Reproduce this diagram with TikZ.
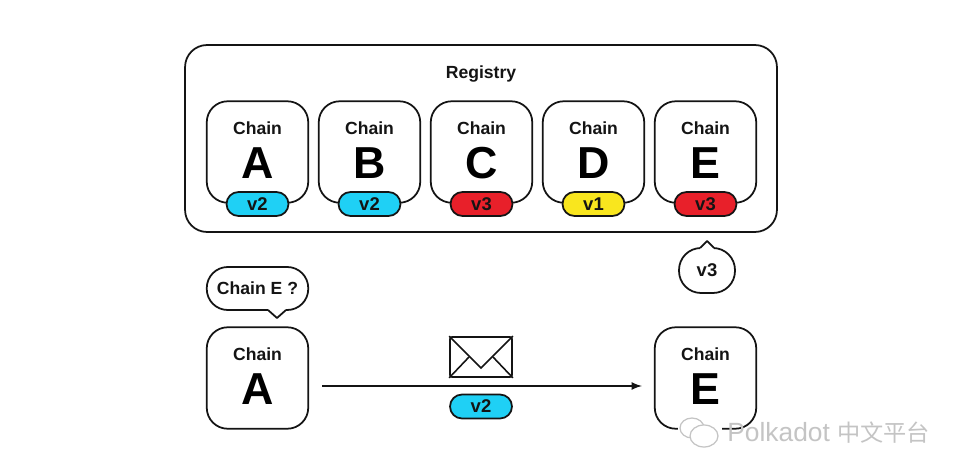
\documentclass[tikz,border=0pt]{standalone}
\usepackage{fontspec}
\setmainfont{Liberation Sans}
\newfontfamily\cjk{Noto Sans CJK SC}
\definecolor{tinta}{HTML}{141414}
\definecolor{cian}{HTML}{1FD0F5}
\definecolor{rojo}{HTML}{E8202A}
\definecolor{amarillo}{HTML}{F9E61E}
\definecolor{marca}{HTML}{C4C4C4}
\tikzstyle{caja}=[draw=tinta,line width=1pt,rounded corners=0.42cm,minimum width=2.03cm,minimum height=2.03cm,inner sep=0pt,fill=white]
\tikzstyle{pastilla}=[draw=tinta,line width=1pt,rounded corners=0.24cm,minimum width=1.24cm,minimum height=0.48cm,inner sep=0pt,font=\bfseries\fontsize{10.5}{12}\selectfont,text=tinta]
\tikzstyle{texto}=[inner sep=0pt,font=\bfseries\fontsize{10}{12}\selectfont,text=tinta]
\tikzstyle{letra}=[inner sep=0pt,font=\bfseries\fontsize{25.5}{30}\selectfont,text=black]
\tikzstyle{globo}=[draw=tinta,line width=1pt,fill=white,inner sep=0pt]
\tikzstyle{cola}=[line width=1pt,line join=round]

\begin{document}
\begin{tikzpicture}[x=0.02cm,y=-0.02cm]
    \useasboundingbox [fill=white] (0,0) rectangle (960,476);
    % registry
    \node [caja,minimum width=11.84cm,minimum height=3.74cm,rounded corners=0.44cm] (registry) at (481,138.5) {};
    \node [texto] (titulo) at (481,73.5) {Registry};
    \foreach \x/\nombre/\tono/\ver in {257.5/A/cian/v2,369.5/B/cian/v2,481.5/C/rojo/v3,593.5/D/amarillo/v1,705.5/E/rojo/v3} {
        \node [caja] (caja\nombre) at (\x,152) {};
        \node [texto] (chain\nombre) at (\x,128) {Chain};
        \node [letra] (letra\nombre) at (\x,163) {\nombre};
        \node [pastilla,fill=\tono] (ver\nombre) at (\x,204) {\ver};
    }
    % lower row
    \node [caja] (cajaizq) at (257.5,378) {};
    \node [texto] (chainizq) at (257.5,354) {Chain};
    \node [letra] (letraizq) at (257.5,389) {A};
    \node [caja] (cajader) at (705.5,378) {};
    \node [texto] (chainder) at (705.5,354) {Chain};
    \node [letra] (letrader) at (705.5,389) {E};
    \draw [tinta,line width=1pt,-latex,shorten <=0.26cm,shorten >=0.24cm] ([yshift=-0.16cm]cajaizq.east) -- ([yshift=-0.16cm]cajader.west);
    % bubbles
    \node [globo,rounded corners=0.42cm,minimum width=2.03cm,minimum height=0.86cm,font=\bfseries\fontsize{10}{12}\selectfont,text=tinta] (pregunta) at (257.5,288.5) {Chain E ?};
    \fill [white] (268,308) rectangle (286,311.5);
    \draw [tinta,cola] (268,310) -- (277,318) -- (286,310);
    \node [globo,rounded corners=0.44cm,minimum width=1.12cm,minimum height=0.9cm,font=\bfseries\fontsize{10.5}{12}\selectfont,text=tinta] (respuesta) at (707,270.5) {v3};
    \fill [white] (700,246.5) rectangle (714,250);
    \draw [tinta,cola] (700,248) -- (707,241) -- (714,248);
    % envelope
    \node [draw=tinta,line width=1pt,rounded corners=0.04cm,minimum width=1.24cm,minimum height=0.8cm,inner sep=0pt] (sobre) at (481,357) {};
    \draw [tinta,line width=0.9pt] (sobre.north west) -- (481,368) -- (sobre.north east);
    \draw [tinta,line width=0.9pt] (sobre.south west) -- (469,357);
    \draw [tinta,line width=0.9pt] (sobre.south east) -- (493,357);
    \node [pastilla,fill=cian] (vermsg) at (481,406.5) {v2};
    % watermark
    \fill [white] (678,418) rectangle (722,450);
    \draw [marca,line width=0.7pt,fill=white] (692,428) ellipse [x radius = 12, y radius = 10];
    \draw [marca,line width=0.7pt,fill=white] (704,436) ellipse [x radius = 14, y radius = 11];
    \node [inner sep=0pt,anchor=west,text=marca,font=\fontsize{15}{18}\selectfont] (marcatexto) at (727,433) {Polkadot {\cjk\fontsize{13.2}{18}\selectfont 中文平台}};
\end{tikzpicture}
\end{document}
